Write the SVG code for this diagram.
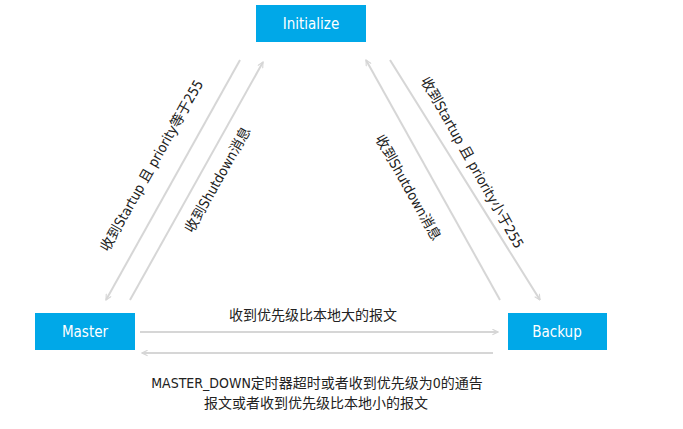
<svg xmlns="http://www.w3.org/2000/svg" width="683" height="429" viewBox="0 0 683 429">
<style>
.box{fill:#00a8e8}
.bt{font-family:"DejaVu Sans","Noto Sans CJK SC",sans-serif;font-stretch:condensed;font-size:15px;fill:#fff;text-anchor:middle}
.lbl{font-family:"DejaVu Sans","Noto Sans CJK SC",sans-serif;font-stretch:condensed;font-size:14px;fill:#222;text-anchor:middle}
.ln{stroke:#d6d6d6;stroke-width:2;fill:none;marker-end:url(#ah)}
</style>
<defs><marker id="ah" viewBox="0 0 10 10" refX="9" refY="5" markerWidth="7" markerHeight="7" orient="auto" markerUnits="userSpaceOnUse"><path d="M1,1 L9,5 L1,9" fill="none" stroke="#d6d6d6" stroke-width="1.6"/></marker></defs>
<rect width="683" height="429" fill="#fff"/>
<g id="connectors">
<line class="ln" x1="240" y1="60" x2="106" y2="300"/>
<line class="ln" x1="130" y1="300" x2="263" y2="62"/>
<line class="ln" x1="390" y1="60" x2="540" y2="300"/>
<line class="ln" x1="500" y1="300" x2="366" y2="60"/>
<line class="ln" x1="140" y1="332" x2="498" y2="332"/>
<line class="ln" x1="493" y1="353" x2="142" y2="353"/>
</g>
<g id="initialize"><rect class="box" x="256" y="5" width="110" height="37"/><text class="bt" x="311" y="29">Initialize</text></g>
<g id="master"><rect class="box" x="35" y="313" width="100" height="37"/><text class="bt" x="85" y="337">Master</text></g>
<g id="backup"><rect class="box" x="508" y="313" width="99" height="37"/><text class="bt" x="557" y="337">Backup</text></g>
<g id="labels">
<text class="lbl" transform="translate(156,168) rotate(-60.6)">收到Startup 且 priority等于255</text>
<text class="lbl" transform="translate(222,182) rotate(-60.6)">收到Shutdown消息</text>
<text class="lbl" transform="translate(404,190) rotate(60.6)">收到Shutdown消息</text>
<text class="lbl" transform="translate(468,165) rotate(60.6)">收到Startup 且 priority小于255</text>
<text class="lbl" x="313" y="320">收到优先级比本地大的报文</text>
<text class="lbl" x="317" y="388">MASTER_DOWN定时器超时或者收到优先级为0的通告</text>
<text class="lbl" x="316" y="408">报文或者收到优先级比本地小的报文</text>
</g>
</svg>
